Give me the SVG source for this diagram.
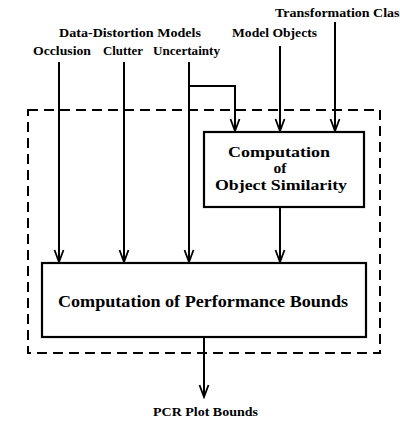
<svg xmlns="http://www.w3.org/2000/svg" width="400" height="421" viewBox="0 0 400 421">
<style>
.lbl{font-family:"Liberation Serif","Times New Roman",serif;font-weight:bold;font-size:13px;fill:#000}
.big{font-family:"Liberation Serif","Times New Roman",serif;font-weight:bold;font-size:16.5px;fill:#000}
.mid{font-family:"Liberation Serif","Times New Roman",serif;font-weight:bold;font-size:15.5px;fill:#000}
.box{fill:#fff;stroke:#000;stroke-width:2.2}
.ln{fill:none;stroke:#000;stroke-width:2}
.dash{fill:none;stroke:#000;stroke-width:2;stroke-dasharray:10 6}
</style>
<defs>
<marker id="arr" markerUnits="userSpaceOnUse" markerWidth="16" markerHeight="14" viewBox="-14 -7 16 14" refX="0" refY="0" orient="auto">
<path d="M-12,-4.5 L0,0 L-12,4.5" fill="none" stroke="#000" stroke-width="1.8"/>
</marker>
</defs>
<rect x="0" y="0" width="400" height="421" fill="#fff"/>
<g id="group-boundary">
<rect x="28" y="110" width="352" height="243" class="dash"/>
</g>
<g id="connectors">
<line x1="59" y1="62" x2="59" y2="262" class="ln" marker-end="url(#arr)"/>
<line x1="124" y1="62" x2="124" y2="262" class="ln" marker-end="url(#arr)"/>
<line x1="189" y1="62" x2="189" y2="262" class="ln" marker-end="url(#arr)"/>
<polyline points="189,86 235,86 235,131" class="ln" marker-end="url(#arr)"/>
<line x1="280" y1="46" x2="280" y2="131" class="ln" marker-end="url(#arr)"/>
<line x1="335" y1="22" x2="335" y2="131" class="ln" marker-end="url(#arr)"/>
<line x1="280" y1="207" x2="280" y2="262" class="ln" marker-end="url(#arr)"/>
<line x1="204" y1="337" x2="204" y2="397" class="ln" marker-end="url(#arr)"/>
</g>
<g id="labels">
<text class="lbl" x="275" y="17" textLength="130" lengthAdjust="spacingAndGlyphs">Transformation Class</text>
<text class="lbl" x="59" y="37" textLength="142" lengthAdjust="spacingAndGlyphs">Data-Distortion Models</text>
<text class="lbl" x="232" y="37" textLength="85" lengthAdjust="spacingAndGlyphs">Model Objects</text>
<text class="lbl" x="33" y="55" textLength="58" lengthAdjust="spacingAndGlyphs">Occlusion</text>
<text class="lbl" x="103" y="55" textLength="40" lengthAdjust="spacingAndGlyphs">Clutter</text>
<text class="lbl" x="153" y="55" textLength="67" lengthAdjust="spacingAndGlyphs">Uncertainty</text>
<text class="lbl" x="153" y="416" textLength="105" lengthAdjust="spacingAndGlyphs">PCR Plot Bounds</text>
</g>
<g id="similarity">
<rect x="204" y="132" width="160" height="75" class="box"/>
<text class="mid" x="228" y="157" textLength="102" lengthAdjust="spacingAndGlyphs">Computation</text>
<text class="mid" x="280" y="173" text-anchor="middle">of</text>
<text class="mid" x="215" y="190" textLength="132" lengthAdjust="spacingAndGlyphs">Object Similarity</text>
</g>
<g id="bounds">
<rect x="42" y="263" width="324" height="74" class="box"/>
<text class="big" x="58" y="307" textLength="290" lengthAdjust="spacingAndGlyphs">Computation of Performance Bounds</text>
</g>
</svg>
